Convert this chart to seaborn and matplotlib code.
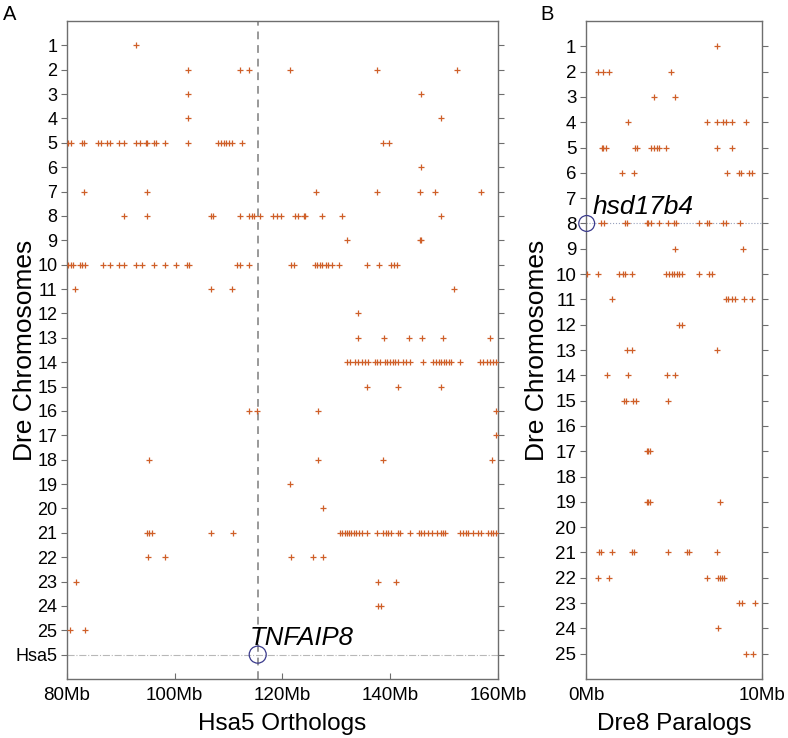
import numpy as np
import pandas as pd
import matplotlib
matplotlib.use("Agg")
import matplotlib.pyplot as plt
import seaborn as sns

# Panel A: Hsa5 ortholog positions (Mb) on each Dre chromosome (index 0 -> chr 1)
hsa5_hits = [
    [92.9],
    [102.4, 112.2, 113.7, 121.4, 137.6, 152.3],
    [102.4, 145.7],
    [102.4, 149.5],
    [80.2, 80.7, 82.7, 83.2, 85.8, 86.4, 87.4, 88.0, 89.7, 90.6, 92.9, 93.5, 94.6, 94.9,
     96.2, 96.6, 98.2, 102.4, 108.1, 108.6, 109.1, 109.6, 110.1, 110.6, 112.4, 138.6, 139.7],
    [145.7],
    [83.2, 94.9, 126.2, 137.6, 145.6, 148.3, 156.8],
    [90.6, 94.9, 106.7, 107.1, 112.2, 113.7, 114.4, 114.8, 115.8, 118.3, 118.9, 119.8,
     122.3, 122.8, 124.0, 124.2, 127.4, 131.1, 149.5],
    [131.9, 145.6, 145.7],
    [80.2, 80.7, 81.2, 82.4, 82.8, 83.3, 86.6, 88.0, 89.7, 90.6, 92.9, 94.0, 96.2, 98.2,
     100.2, 102.2, 102.7, 111.5, 112.1, 113.7, 121.6, 122.2, 126.0, 126.4, 126.9, 127.4,
     128.0, 128.5, 129.1, 130.5, 135.6, 137.9, 140.2, 140.7, 141.2],
    [81.5, 106.7, 110.6, 151.8],
    [134.0],
    [134.0, 138.9, 143.5, 145.9, 149.7, 158.6],
    [131.9, 132.5, 133.4, 134.0, 134.7, 135.3, 135.9, 137.1, 137.6, 138.1, 139.0, 139.4,
     140.0, 140.5, 140.9, 141.4, 142.4, 143.0, 143.6, 146.0, 148.0, 148.5, 149.0, 149.4,
     149.9, 150.4, 150.9, 151.3, 153.0, 156.7, 157.2, 157.9, 158.5, 159.1, 159.7],
    [135.6, 141.4, 149.5],
    [113.7, 115.3, 126.6, 159.7],
    [159.7],
    [95.3, 126.6, 138.7, 158.8],
    [121.4],
    [127.6],
    [94.8, 95.2, 95.7, 106.7, 110.9, 130.6, 131.1, 131.6, 132.0, 132.4, 132.8, 133.2,
     133.7, 134.2, 134.7, 135.6, 137.6, 138.7, 139.2, 139.6, 140.1, 141.5, 141.9, 143.6,
     145.4, 145.8, 146.2, 147.0, 147.8, 148.6, 149.5, 149.8, 150.1, 152.9, 153.5, 154.0,
     154.5, 155.4, 156.3, 156.9, 158.2, 158.7, 159.1, 159.6],
    [95.0, 98.1, 121.5, 125.7, 127.6],
    [81.6, 137.8, 141.0],
    [137.8, 138.3],
    [80.6, 83.3],
]

# Panel B: Dre8 paralog positions (Mb) on each Dre chromosome
dre8_hits = [
    [7.46],
    [0.70, 0.98, 1.31, 4.83],
    [3.86, 5.04],
    [2.41, 6.89, 7.46, 7.80, 7.95, 8.30, 9.09],
    [0.89, 0.98, 1.14, 2.78, 2.92, 3.67, 3.86, 4.02, 4.17, 4.55, 7.46, 8.30],
    [2.06, 2.75, 7.99, 8.71, 8.79, 9.28, 9.43],
    [],
    [0.85, 1.02, 2.22, 2.35, 3.45, 3.54, 3.67, 4.15, 4.68, 5.00, 5.10, 6.44, 6.86, 6.99,
     7.77, 7.94, 8.75],
    [5.06, 8.90],
    [0.04, 0.70, 1.89, 2.12, 2.22, 2.60, 4.55, 4.73, 4.87, 5.00, 5.15, 5.28, 5.44, 6.44,
     7.00, 7.18],
    [1.46, 7.94, 8.09, 8.28, 8.47, 9.00, 9.41],
    [5.30, 5.44],
    [2.31, 2.60, 7.42],
    [1.18, 2.41, 4.62, 5.06],
    [2.18, 2.27, 2.69, 2.84, 4.64],
    [],
    [3.45, 3.54, 3.64],
    [],
    [3.45, 3.54, 3.64, 7.61],
    [],
    [0.74, 0.83, 1.46, 2.63, 2.75, 4.64, 5.72, 5.87, 7.42],
    [0.70, 1.31, 6.86, 7.52, 7.61, 7.71, 7.84],
    [8.71, 8.85, 9.60],
    [7.52],
    [9.07, 9.47],
]

a_ticklabels = [str(i) for i in range(1, 26)] + ["Hsa5"]
b_ticklabels = [str(i) for i in range(1, 26)]
a_xticks = [80, 100, 120, 140, 160]
b_xticks = [0, 10]

tnfaip8_pos = 115.4   # Mb on Hsa5
hsd17b4_pos = 0.04    # Mb on Dre8

mark_color = "#cf5f28"
circle_color = "#3a3a8c"


def to_long(hits):
    rows = [(pos, chrom + 1) for chrom, lst in enumerate(hits) for pos in lst]
    return pd.DataFrame(rows, columns=["pos", "chrom"])


df_a = to_long(hsa5_hits)
df_b = to_long(dre8_hits)

sns.set_style("white")
plt.rcParams["font.family"] = ["Liberation Sans", "DejaVu Sans"]
plt.rcParams["text.color"] = "black"
plt.rcParams["axes.labelcolor"] = "black"
plt.rcParams["xtick.color"] = "black"
plt.rcParams["ytick.color"] = "black"

fig = plt.figure(figsize=(7.88, 7.38), dpi=100)
ax_a = fig.add_axes([67 / 788, 59 / 738, 431 / 788, 658 / 738])
ax_b = fig.add_axes([586 / 788, 59 / 738, 176 / 788, 658 / 738])

# --- panel A ---
ax_a.axvline(tnfaip8_pos, color="#999999", lw=1.4, ls=(0, (4, 3)), zorder=1)
ax_a.axhline(26, color="#b8b8b8", lw=0.8, ls="-.", zorder=1)
sns.scatterplot(data=df_a, x="pos", y="chrom", marker="+", color=mark_color,
                edgecolor=mark_color, s=20, linewidth=0.9, ax=ax_a, zorder=3)
ax_a.scatter([tnfaip8_pos], [26], s=150, facecolors="none",
             edgecolors=circle_color, linewidths=0.9, zorder=4)
ax_a.text(tnfaip8_pos - 1.5, 25.6, "TNFAIP8", fontsize=18.5, style="italic",
          ha="left", va="baseline")

ax_a.set_xlim(80, 160)
ax_a.set_ylim(27, 0)
ax_a.set_xticks(a_xticks)
ax_a.set_xticklabels([f"{v}Mb" for v in a_xticks], fontsize=13.5)
ax_a.set_yticks(range(1, 27))
ax_a.set_yticklabels(a_ticklabels, fontsize=13)
ax_a.set_xlabel("Hsa5 Orthologs", fontsize=17.5, labelpad=6)
ax_a.set_ylabel("Dre Chromosomes", fontsize=19)
ax_a.yaxis.set_label_coords(-0.07, 0.5)

# --- panel B ---
ax_b.axhline(8, color="#9aa3bd", lw=0.8, ls=":", zorder=1)
sns.scatterplot(data=df_b, x="pos", y="chrom", marker="+", color=mark_color,
                edgecolor=mark_color, s=20, linewidth=0.9, ax=ax_b, zorder=3)
ax_b.scatter([hsd17b4_pos], [8], s=130, facecolors="none",
             edgecolors=circle_color, linewidths=0.9, zorder=4, clip_on=False)
ax_b.text(0.4, 7.62, "hsd17b4", fontsize=19, style="italic",
          ha="left", va="baseline")

ax_b.set_xlim(0, 10)
ax_b.set_ylim(26, 0)
ax_b.set_xticks(b_xticks)
ax_b.set_xticklabels([f"{v}Mb" for v in b_xticks], fontsize=13.5)
ax_b.set_yticks(range(1, 26))
ax_b.set_yticklabels(b_ticklabels, fontsize=13.5)
ax_b.set_xlabel("Dre8 Paralogs", fontsize=17.5, labelpad=6)
ax_b.set_ylabel("Dre Chromosomes", fontsize=19)
ax_b.yaxis.set_label_coords(-0.21, 0.5)

for ax in (ax_a, ax_b):
    for side in ax.spines:
        ax.spines[side].set_color("#6e6e6e")
        ax.spines[side].set_linewidth(1.0)
    ax.tick_params(axis="y", which="both", left=True, right=True,
                   direction="out", length=4, color="#6e6e6e",
                   labelcolor="black", pad=3)
    ax.tick_params(axis="x", which="both", bottom=True, direction="in",
                   length=4, color="#6e6e6e", labelcolor="black", pad=6)

fig.text(3 / 788, 1 - 14 / 738, "A", fontsize=14.5, ha="left", va="center")
fig.text(540 / 788, 1 - 14 / 738, "B", fontsize=14.5, ha="left", va="center")

fig.savefig("out.png", dpi=100)
